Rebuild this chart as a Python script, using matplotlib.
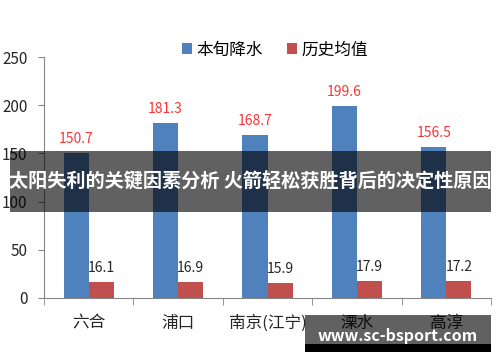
import matplotlib
matplotlib.use('Agg')
import matplotlib.pyplot as plt
from matplotlib.patches import Rectangle
import numpy as np

plt.rcParams['font.family'] = ['Noto Sans CJK SC', 'DejaVu Sans']

# data
categories = ["六合", "浦口", "南京(江宁)", "溧水", "高淳"]
rain_now = [150.7, 181.3, 168.7, 199.6, 156.5]
rain_hist = [16.1, 16.9, 15.9, 17.9, 17.2]
series_names = ["本旬降水", "历史均值"]
y_ticks = [0, 50, 100, 150, 200, 250]

banner_text = "太阳失利的关键因素分析 火箭轻松获胜背后的决定性原因"
watermark_text = "www.sc-bsport.com"

blue = "#4F81BD"
red = "#C0504D"
axis_gray = "#868686"

fig = plt.figure(figsize=(5, 3.62), dpi=100)
ax = fig.add_axes([0.088, 0.177, 0.894, 0.6655])

x = np.arange(len(categories))
w = 0.28
b1 = ax.bar(x - w / 2, rain_now, w, color=blue, label=series_names[0])
b2 = ax.bar(x + w / 2, rain_hist, w, color=red, label=series_names[1])

# value labels
for bar, v in zip(b1, rain_now):
    ax.annotate(f"{v:.1f}", (bar.get_x() + bar.get_width() / 2, v),
                xytext=(0, 7), textcoords="offset pixels",
                ha="center", va="bottom", fontsize=10, color="#FF3333")
for bar, v in zip(b2, rain_hist):
    ax.annotate(f"{v:.1f}", (bar.get_x() + bar.get_width() / 2, v),
                xytext=(0, 7), textcoords="offset pixels",
                ha="center", va="bottom", fontsize=10, color="#262626")

ax.set_xlim(-0.5, len(categories) - 0.5)
ax.set_ylim(0, 250)
ax.set_yticks(y_ticks)
ax.set_xticks(x)
ax.set_xticklabels(categories, fontsize=12, color="#262626")
ax.set_xticks(np.arange(len(categories) + 1) - 0.5, minor=True)
ax.tick_params(axis="x", which="major", length=0, pad=12)
ax.tick_params(axis="x", which="minor", length=5, color=axis_gray)
ax.tick_params(axis="y", length=4, color=axis_gray, pad=8, labelsize=11, labelcolor="#262626")

for s in ["top", "right"]:
    ax.spines[s].set_visible(False)
ax.spines["left"].set_color(axis_gray)
ax.spines["bottom"].set_color(axis_gray)

fig.legend(handles=[b1, b2], loc="center", bbox_to_anchor=(0.55, 0.862),
           ncol=2, frameon=False, fontsize=12, handlelength=0.6, handleheight=0.6,
           handletextpad=0.3, columnspacing=1.4)

# dark banner across the middle
fig.patches.append(Rectangle((0.02, 0.4144), 0.962, 0.1685, transform=fig.transFigure,
                             facecolor="black", alpha=0.62, edgecolor="none", zorder=5))
fig.text(0.501, 0.4986, banner_text, ha="center", va="center", fontsize=13.8,
         fontweight="bold", color="white", zorder=6)

# watermark box bottom right
fig.patches.append(Rectangle((0.61, 0.0497), 0.372, 0.0801, transform=fig.transFigure,
                             facecolor="black", alpha=0.62, edgecolor="none", zorder=5))
fig.patches.append(Rectangle((0.61, 0.0276), 0.372, 0.0221, transform=fig.transFigure,
                             facecolor="black", edgecolor="none", zorder=5))
fig.text(0.795, 0.072, watermark_text, ha="center", va="center", fontsize=11.5,
         fontweight="bold", color="white", zorder=6)

fig.savefig("out.png", dpi=100)
plt.close(fig)
